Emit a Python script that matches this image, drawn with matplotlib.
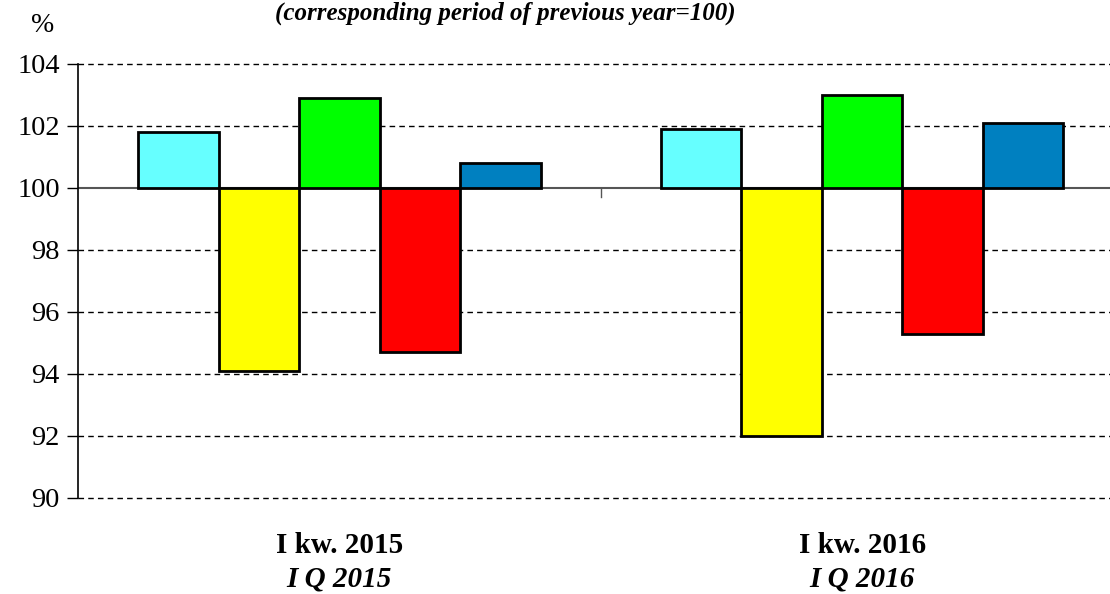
import matplotlib.pyplot as plt
import numpy as np

cat_pl = ['I kw. 2015', 'I kw. 2016']
cat_en = ['I Q 2015', 'I Q 2016']

s1 = [101.8, 101.9]
s2 = [94.1, 92.0]
s3 = [102.9, 103.0]
s4 = [94.7, 95.3]
s5 = [100.8, 102.1]
series = [s1, s2, s3, s4, s5]
colors = ['#66FFFF', '#FFFF00', '#00FF00', '#FF0000', '#0080C0']

plt.rcParams['font.family'] = ['Liberation Serif', 'DejaVu Serif']

fig = plt.figure(figsize=(11.10, 5.94), dpi=100)
W, H = 1110, 594
# axes: left 78px, right 1123.5px (runs off the canvas), top 64px, bottom 498px
ax = fig.add_axes([78 / W, 1 - 498 / H, (1123.5 - 78) / W, (498 - 64) / H])

x = np.arange(len(cat_pl))
bw = 0.154
base = 100
for i, (vals, c) in enumerate(zip(series, colors)):
    pos = x + (i - 2) * bw
    ax.bar(pos, np.array(vals) - base, bottom=base, width=bw, color=c,
           edgecolor='black', linewidth=2, zorder=3)

ax.set_xlim(-0.5, 1.5)
ax.set_ylim(90, 104)
ax.set_yticks(np.arange(90, 105, 2))
ax.tick_params(axis='y', labelsize=20.5, length=8, width=1, direction='out', pad=5)
for yv in np.arange(90, 105, 2):
    if yv != base:
        ax.axhline(yv, color='black', linestyle=(0, (4, 3)), linewidth=1,
                   zorder=1, clip_on=False)
ax.axhline(base, color='#555555', linewidth=1.5, zorder=2)

# middle tick on baseline
ax.set_xticks([])
ax.plot([0.5, 0.5], [base, base - 0.3], color='#555555', linewidth=1, zorder=2)

for s in ['top', 'right', 'bottom']:
    ax.spines[s].set_visible(False)
ax.spines['left'].set_linewidth(1.2)

for xi, a, b in zip(x, cat_pl, cat_en):
    ax.annotate(a, xy=(xi, 90), xycoords='data', xytext=(0, -34),
                textcoords='offset points', ha='center', va='center',
                fontsize=21, fontweight='bold', annotation_clip=False)
    ax.annotate(b, xy=(xi, 90), xycoords='data', xytext=(0, -58),
                textcoords='offset points', ha='center', va='center',
                fontsize=21, fontweight='bold', fontstyle='italic',
                annotation_clip=False)

fig.text(505 / W, 1 - 13 / H, '(corresponding period of previous year=100)',
         ha='center', va='center', fontsize=18, fontweight='bold', fontstyle='italic')
fig.text(43 / W, 1 - 25 / H, '%', ha='center', va='center', fontsize=20)

fig.savefig('out.png', dpi=100)
